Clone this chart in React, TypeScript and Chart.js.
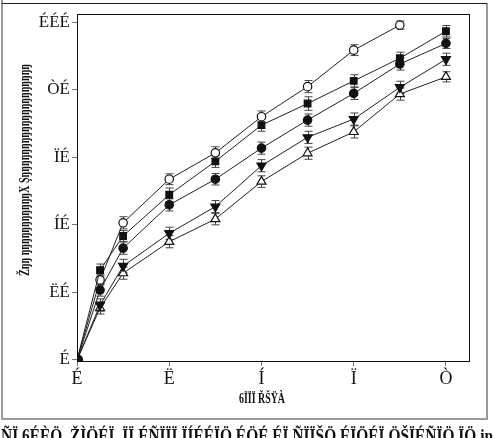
import React, { useEffect, useRef } from "react";
import { Chart, registerables } from "chart.js";

Chart.register(...registerables);

// ---- data ----
const timePoints = [0, 0.5, 1, 2, 3, 4, 5, 6, 7, 8];
const openCircleVals = [0, 23.7, 40.6, 53.5, 61.3, 72.0, 80.9, 91.7, 99.1];
const openCircleErr = [0, 1.5, 1.8, 1.6, 1.8, 1.7, 1.8, 1.6, 1.2];
const squareVals = [0, 26.6, 36.7, 48.9, 58.8, 69.5, 75.9, 82.6, 89.3, 97.3];
const squareErr = [0, 1.8, 1.6, 2.0, 1.8, 1.8, 2.0, 1.8, 1.8, 1.7];
const filledCircleVals = [0, 20.7, 33.1, 45.9, 53.5, 62.7, 71.0, 78.9, 87.6, 93.7];
const filledCircleErr = [0, 1.8, 1.8, 1.8, 1.7, 1.8, 1.8, 1.8, 1.8, 1.5];
const downTriVals = [0, 16.3, 27.8, 37.5, 45.4, 57.5, 65.9, 71.3, 80.7, 89.0];
const downTriErr = [0, 1.8, 2.0, 1.8, 1.8, 1.8, 1.8, 1.8, 1.8, 1.8];
const upTriVals = [0, 15.4, 25.7, 35.0, 41.7, 52.8, 61.2, 67.5, 78.7, 83.8];
const upTriErr = [0, 1.8, 1.8, 1.8, 1.7, 1.7, 1.8, 1.8, 1.8, 1.5];

const xTicks = [0, 2, 4, 6, 8];
const xTickLabels = ["É", "Ë", "Í", "Ï", "Ò"];
const yTicks = [0, 20, 40, 60, 80, 100];
const yTickLabels = ["É", "ËÉ", "ÍÉ", "ÏÉ", "ÒÉ", "ÉÉÉ"];

const yTitle = "Žŋŋ ŋŋŋŋŋŋŋŋŋŋŋX Şŋŋŋŋŋŋŋŋŋŋŋŋŋŋŋŋŋŋŋŋ";
const xTitle = "6ÏÏÏ ŘŠŸÀ";
const caption = "ÑÏ 6ÉÈÖ. ŽÌÖÉÏ. ÏÏ ÉÑÏÏÏ ÏÍÉÉÏÖ ÉÖÉ ÉÏ ÑÏÏŠÖ ÉÏÖÉÏ ÖŠÏÉÑÏÖ ÏÖ in";

function toPts(vals: number[]) {
  return vals.map((v, i) => ({ x: timePoints[i], y: v }));
}

export default function App() {
  const ref = useRef<HTMLCanvasElement | null>(null);

  useEffect(() => {
    if (!ref.current) return;
    document.body.style.margin = "0";

    const errs: number[][] = [filledCircleErr, squareErr, downTriErr, openCircleErr, upTriErr];

    const framePlugin = {
      id: "frame",
      beforeDraw(chart: any) {
        const ctx = chart.ctx;
        ctx.save();
        ctx.fillStyle = "#fff";
        ctx.fillRect(0, 0, chart.width, chart.height);
        ctx.strokeStyle = "#9a9a9a";
        ctx.lineWidth = 2;
        ctx.beginPath();
        ctx.moveTo(2, 0);
        ctx.lineTo(2, 419);
        ctx.lineTo(487, 419);
        ctx.lineTo(487, 3);
        ctx.stroke();
        ctx.strokeStyle = "#222";
        ctx.lineWidth = 1;
        ctx.beginPath();
        ctx.moveTo(2, 3.5);
        ctx.lineTo(487, 3.5);
        ctx.stroke();
        ctx.restore();
      },
      beforeDatasetsDraw(chart: any) {
        const ctx = chart.ctx;
        const xs = chart.scales.x;
        const ys = chart.scales.y;
        ctx.save();
        ctx.strokeStyle = "#444";
        ctx.lineWidth = 1;
        chart.data.datasets.forEach((ds: any, di: number) => {
          const e = errs[di];
          ds.data.forEach((p: any, i: number) => {
            if (!e[i]) return;
            const px = Math.round(xs.getPixelForValue(p.x)) + 0.5;
            const y1 = ys.getPixelForValue(p.y + e[i]);
            const y2 = ys.getPixelForValue(p.y - e[i]);
            ctx.beginPath();
            ctx.moveTo(px, y1);
            ctx.lineTo(px, y2);
            ctx.moveTo(px - 4, y1);
            ctx.lineTo(px + 4, y1);
            ctx.moveTo(px - 4, y2);
            ctx.lineTo(px + 4, y2);
            ctx.stroke();
          });
        });
        ctx.restore();
      },
      afterDraw(chart: any) {
        const ctx = chart.ctx;
        const a = chart.chartArea;
        ctx.save();
        ctx.strokeStyle = "#111";
        ctx.lineWidth = 1;
        ctx.strokeRect(a.left + 0.5, a.top + 0.5, a.right - a.left, a.bottom - a.top);
        ctx.fillStyle = "#111";
        ctx.save();
        ctx.translate(25, 170);
        ctx.rotate(-Math.PI / 2);
        ctx.font = 'bold 15px "Liberation Serif", serif';
        ctx.textAlign = "center";
        ctx.textBaseline = "middle";
        ctx.fillText(yTitle, 0, 0, 212);
        ctx.restore();
        ctx.font = 'bold 15px "Liberation Serif", serif';
        ctx.textAlign = "center";
        ctx.textBaseline = "middle";
        ctx.fillText(xTitle, 262, 399, 46);
        ctx.font = 'bold 18px "Liberation Serif", serif';
        ctx.textAlign = "left";
        ctx.textBaseline = "alphabetic";
        ctx.fillText(caption, 1, 442, 492);
        ctx.restore();
      },
    };

    const base = {
      borderColor: "#222",
      borderWidth: 1,
      pointBorderColor: "#111",
      pointBorderWidth: 1.2,
      tension: 0,
      fill: false,
    };

    const chart = new Chart(ref.current, {
      type: "line",
      data: {
        datasets: [
          { ...base, label: "filled circle", data: toPts(filledCircleVals), pointStyle: "circle", pointRadius: filledCircleVals.map((_, i) => (i === 0 ? 5.5 : 4.2)), backgroundColor: "#111", pointBackgroundColor: "#111" },
          { ...base, label: "filled square", data: toPts(squareVals), pointStyle: "rect", pointRadius: 4.7, backgroundColor: "#111", pointBackgroundColor: "#111" },
          { ...base, label: "filled down triangle", data: toPts(downTriVals), pointStyle: "triangle", rotation: 180, pointRadius: 5.2, backgroundColor: "#111", pointBackgroundColor: "#111" },
          { ...base, label: "open circle", data: toPts(openCircleVals), pointStyle: "circle", pointRadius: 4.2, backgroundColor: "#fff", pointBackgroundColor: "#fff" },
          { ...base, label: "open triangle", data: toPts(upTriVals), pointStyle: "triangle", pointRadius: 5.2, backgroundColor: "#fff", pointBackgroundColor: "#fff" },
        ],
      },
      options: {
        animation: false,
        responsive: false,
        layout: { padding: { left: 0, top: 14, right: 25, bottom: 0 } },
        plugins: { legend: { display: false }, tooltip: { enabled: false } },
        scales: {
          x: {
            type: "linear",
            min: 0,
            max: 8.5,
            afterBuildTicks: (s: any) => {
              s.ticks = xTicks.map((v) => ({ value: v }));
            },
            afterFit: (s: any) => {
              s.height = 77;
            },
            grid: { display: true, drawOnChartArea: false, drawTicks: true, tickLength: 5, color: "#777" },
            border: { display: false },
            ticks: {
              color: "#111",
              padding: 2,
              maxRotation: 0,
              font: { family: '"Liberation Serif", serif', size: 18 },
              callback: (v: any) => {
                const i = xTicks.indexOf(Number(v));
                return i >= 0 ? xTickLabels[i] : "";
              },
            },
          },
          y: {
            type: "linear",
            min: -0.3,
            max: 102.4,
            afterBuildTicks: (s: any) => {
              s.ticks = yTicks.map((v) => ({ value: v }));
            },
            afterFit: (s: any) => {
              s.width = 77;
            },
            grid: { display: true, drawOnChartArea: false, drawTicks: true, tickLength: 5, color: "#777" },
            border: { display: false },
            ticks: {
              color: "#111",
              padding: 2,
              font: { family: '"Liberation Serif", serif', size: 17 },
              callback: (v: any) => {
                const i = yTicks.indexOf(Number(v));
                return i >= 0 ? yTickLabels[i] : "";
              },
            },
          },
        },
      },
      plugins: [framePlugin],
    } as any);

    return () => chart.destroy();
  }, []);

  return (
    <div style={{ position: "absolute", left: 0, top: 0, width: 494, height: 438 }}>
      <canvas ref={ref} width={494} height={438} style={{ width: 494, height: 438 }} />
    </div>
  );
}
